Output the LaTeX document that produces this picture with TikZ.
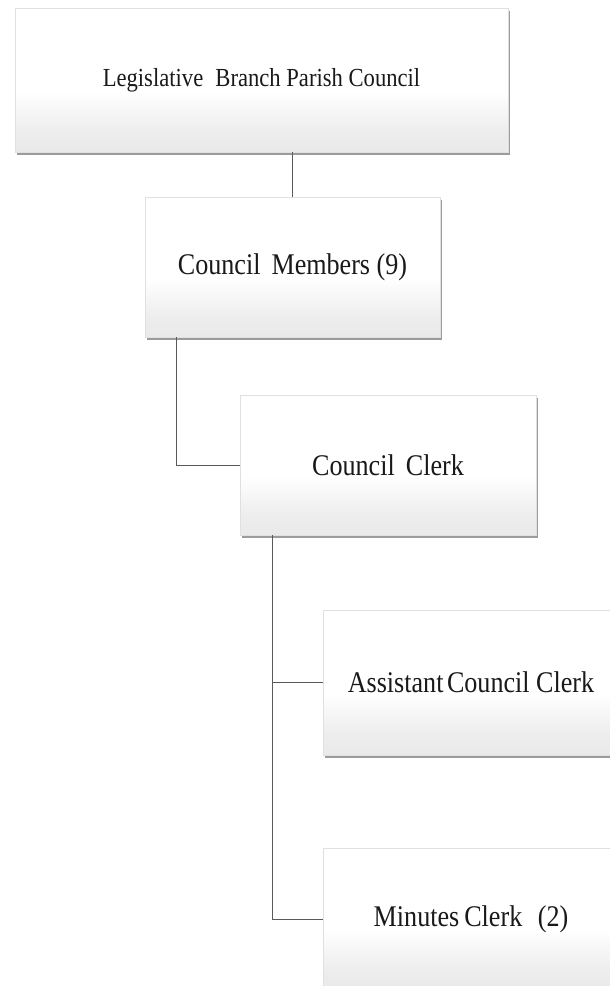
\documentclass[tikz,border=0pt]{standalone}
\usepackage{fontspec}
\setmainfont[FakeStretch=0.87]{Liberation Serif}
\usetikzlibrary{shadows}
\pgfdeclareverticalshading{boxshade}{100bp}{color(0bp)=(black!13); color(18bp)=(black!10); color(32bp)=(black!7); color(46bp)=(white); color(100bp)=(white)}
\tikzset{
  orgbox/.style={rectangle, draw=black!12, line width=0.4pt, shading=boxshade,
    drop shadow={shadow xshift=1.5pt, shadow yshift=-3pt, opacity=0.6, fill=black!65},
    inner sep=0pt, align=center, text=black!90},
  bigtext/.style={font=\fontsize{26}{30}\selectfont},
  midtext/.style={font=\fontsize{30}{34}\selectfont},
  link/.style={draw=black!65, line width=0.8pt}
}
\begin{document}
\begin{tikzpicture}[x=1pt,y=-1pt]
\useasboundingbox (0,0) rectangle (610,986);
\node[orgbox, bigtext, minimum width=493pt, minimum height=144pt] (b1) at (261.5,80) {Legislative\hspace{0.25em} Branch Parish Council};
\node[orgbox, midtext, minimum width=295pt, minimum height=140pt] (b2) at (292.5,267) {Council\hspace{0.15em} Members (9)};
\node[orgbox, midtext, minimum width=296pt, minimum height=140pt] (b3) at (388,465) {Council\hspace{0.15em} Clerk};
\node[orgbox, midtext, minimum width=296pt, minimum height=145pt] (b4) at (471,682.5) {Assistant\hspace{-0.1em} Council Clerk};
\node[orgbox, midtext, minimum width=296pt, minimum height=142pt] (b5) at (471,919) {Minutes\hspace{-0.05em} Clerk\hspace{0.3em} (2)};
\coordinate (c2) at (176,337);
\coordinate (c3) at (272,535);
\path[link] (b2.north) -- (b2.north |- b1.south);
\path[link] (c2) |- (b3.west);
\path[link] (c3) |- (b4.west);
\path[link] (c3) |- (b5.west);
\end{tikzpicture}
\end{document}
